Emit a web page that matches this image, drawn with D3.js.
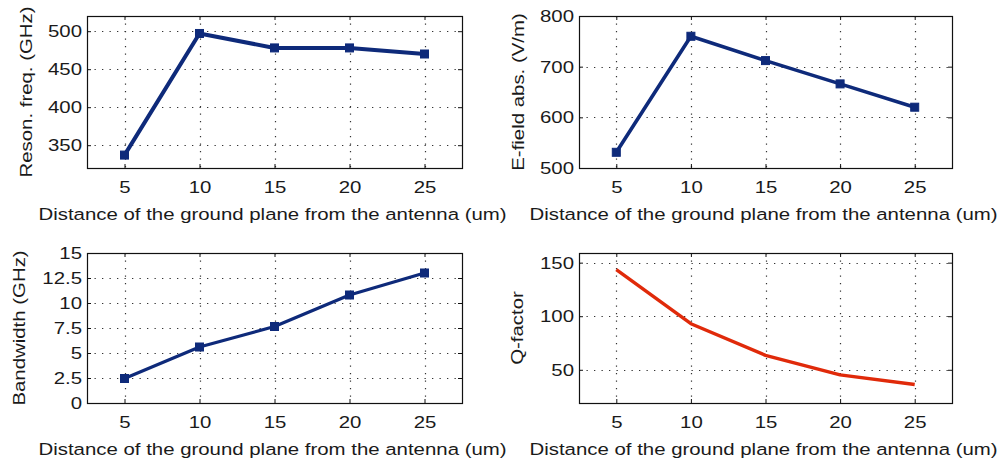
<!DOCTYPE html>
<html><head><meta charset="utf-8">
<script src="https://cdn.jsdelivr.net/npm/d3@7"></script>
<style>
body{margin:0;background:#fff;}
svg{display:block;}
text{font-family:"Liberation Sans",Arial,sans-serif;fill:#1a1a1a;}
</style></head><body>
<svg id="c" width="1003" height="461"></svg>
<script>
// ---- data ----
const distances = [5, 10, 15, 20, 25];
const resonFreq = [337, 497, 478, 478, 470];
const eField = [531, 760, 712, 666, 620];
const bandwidth = [2.45, 5.6, 7.65, 10.8, 13.0];
const qFactor = [143.5, 93, 63.5, 45.3, 36.3];
const xTicks = [5, 10, 15, 20, 25];
const resonTicks = [350, 400, 450, 500];
const eFieldTicks = [500, 600, 700, 800];
const bwTicks = [0, 2.5, 5, 7.5, 10, 12.5, 15];
const qTicks = [50, 100, 150];
const xLabel = "Distance of the ground plane from the antenna (um)";

const svg = d3.select('#c');
const FS = 17, SX = 1.2;
const NAVY = '#0e2a7a', RED = '#e02a0a';

const panels = [
  {l:87, r:462, t:16, b:168, yDom:[320,520], yTicks:resonTicks, vals:resonFreq, ylab:'Reson. freq. (GHz)', ylx:32, color:NAVY, lw:4, markers:true, fmt:d=>d},
  {l:579, r:952, t:16, b:168, yDom:[500,800], yTicks:eFieldTicks, vals:eField, ylab:'E-field abs. (V/m)', ylx:524, color:NAVY, lw:3.6, markers:true, fmt:d=>d},
  {l:87, r:462, t:253, b:403, yDom:[0,15], yTicks:bwTicks, vals:bandwidth, ylab:'Bandwidth (GHz)', ylx:25, color:NAVY, lw:3.2, markers:true, fmt:d=>String(d)},
  {l:579, r:952, t:253, b:403, yDom:[19,159], yTicks:qTicks, vals:qFactor, ylab:'Q-factor', ylx:523, color:RED, lw:3.4, markers:false, fmt:d=>d}
];

panels.forEach(p => {
  const g = svg.append('g');
  const x = d3.scaleLinear().domain([2.5, 27.5]).range([p.l, p.r]);
  const y = d3.scaleLinear().domain(p.yDom).range([p.b, p.t]);

  // grid
  g.append('g').selectAll('line').data(xTicks).join('line')
    .attr('x1', d => Math.round(x(d)) + 0.5).attr('x2', d => Math.round(x(d)) + 0.5)
    .attr('y1', p.t).attr('y2', p.b)
    .attr('stroke', '#333').attr('stroke-width', 1.2).attr('stroke-dasharray', '1.3,6.2');
  g.append('g').selectAll('line').data(p.yTicks).join('line')
    .attr('y1', d => Math.round(y(d)) + 0.5).attr('y2', d => Math.round(y(d)) + 0.5)
    .attr('x1', p.l).attr('x2', p.r)
    .attr('stroke', '#333').attr('stroke-width', 1.2).attr('stroke-dasharray', '1.3,6.2');

  // axes
  const ax = (gen, tx, ty, labels) => {
    const a = g.append('g').attr('transform', `translate(${tx},${ty})`).call(gen);
    a.select('.domain').remove();
    a.selectAll('.tick line').attr('stroke', '#111');
    a.selectAll('text').attr('font-size', FS).attr('fill', '#1a1a1a')
      .attr('font-family', '"Liberation Sans",Arial,sans-serif');
    if (!labels) a.selectAll('text').remove();
    else a.selectAll('text').attr('transform', `scale(${SX},1)`);
    return a;
  };
  ax(d3.axisBottom(x).tickValues(xTicks).tickSizeInner(-4).tickSizeOuter(0).tickPadding(13), 0, p.b, true);
  ax(d3.axisTop(x).tickValues(xTicks).tickSizeInner(-4).tickSizeOuter(0), 0, p.t, false);
  ax(d3.axisLeft(y).tickValues(p.yTicks).tickFormat(p.fmt).tickSizeInner(-4).tickSizeOuter(0).tickPadding(5 / SX), p.l, 0, true);
  ax(d3.axisRight(y).tickValues(p.yTicks).tickSizeInner(-4).tickSizeOuter(0), p.r, 0, false);

  // box
  g.append('rect').attr('x', p.l + 0.5).attr('y', p.t + 0.5)
    .attr('width', p.r - p.l).attr('height', p.b - p.t)
    .attr('fill', 'none').attr('stroke', '#111').attr('stroke-width', 1.2);

  // series
  const pts = distances.map((d, i) => [d, p.vals[i]]);
  g.append('path').datum(pts)
    .attr('d', d3.line().x(d => x(d[0])).y(d => y(d[1])))
    .attr('fill', 'none').attr('stroke', p.color).attr('stroke-width', p.lw)
    .attr('stroke-linejoin', 'round');
  if (p.markers) {
    g.append('g').selectAll('rect').data(pts).join('rect')
      .attr('x', d => x(d[0]) - 4).attr('y', d => y(d[1]) - 4)
      .attr('width', 8).attr('height', 8)
      .attr('fill', p.color).attr('stroke', p.color).attr('stroke-width', 1);
  }

  // labels
  g.append('text').attr('text-anchor', 'middle').attr('font-size', FS)
    .attr('transform', `translate(${(p.l + p.r) / 2 - 2},${p.b + 52}) scale(${SX},1)`)
    .text(xLabel);
  g.append('text').attr('text-anchor', 'middle').attr('font-size', FS)
    .attr('transform', `translate(${p.ylx},${(p.t + p.b) / 2}) rotate(-90) scale(${SX},1)`)
    .text(p.ylab);
});
</script>
</body></html>
